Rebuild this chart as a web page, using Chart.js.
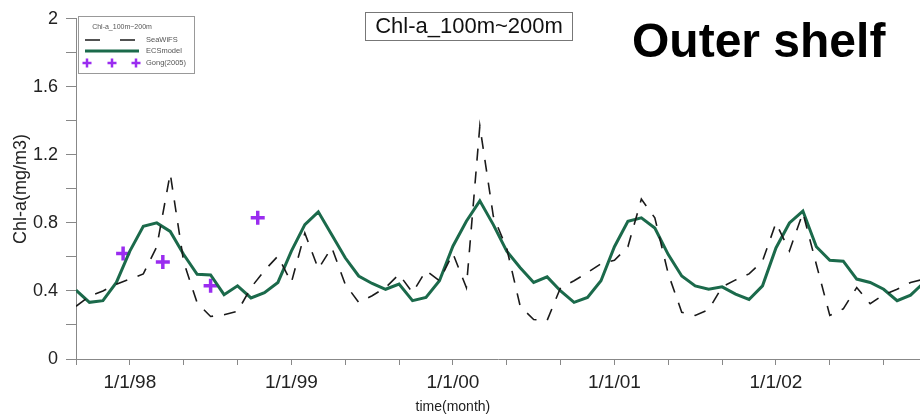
<!DOCTYPE html>
<html>
<head>
<meta charset="utf-8">
<script src="https://cdn.jsdelivr.net/npm/chart.js@4.4.1/dist/chart.umd.min.js"></script>
<style>
  html, body { margin: 0; padding: 0; background: #fff; }
  #wrap { position: relative; width: 920px; height: 417px; }
</style>
</head>
<body>
<div id="wrap"><canvas id="chl" width="920" height="417"></canvas></div>
<script>
// x is months counted from Jan 1998 (0 = 1/1/98); monthly series start Sep 1997
const firstMonth = -4

const seawifs = [
  0.31, 0.37, 0.40, 0.44, 0.47, 0.50, 0.66, 1.09, 0.57, 0.33, 0.25, 0.26,
  0.28, 0.42, 0.52, 0.605, 0.45, 0.74, 0.53, 0.655, 0.44, 0.333, 0.372, 0.42,
  0.498, 0.39, 0.52, 0.46, 0.62, 0.42, 1.37, 0.84, 0.65, 0.31, 0.232, 0.227,
  0.42, 0.46, 0.508, 0.56, 0.58, 0.66, 0.94, 0.83, 0.50, 0.275, 0.256, 0.29,
  0.424, 0.465, 0.50, 0.576, 0.80, 0.635, 0.86, 0.556, 0.256, 0.295, 0.42, 0.325,
  0.378, 0.41, 0.45, 0.47
]

const ecsModel = [
  0.405, 0.333, 0.343, 0.45, 0.634, 0.78, 0.80, 0.75, 0.614, 0.498, 0.494, 0.378,
  0.43, 0.359, 0.39, 0.45, 0.634, 0.79, 0.865, 0.73, 0.595, 0.488, 0.444, 0.41,
  0.44, 0.343, 0.362, 0.46, 0.663, 0.81, 0.93, 0.79, 0.634, 0.537, 0.45, 0.483,
  0.40, 0.333, 0.362, 0.46, 0.66, 0.81, 0.83, 0.77, 0.614, 0.488, 0.43, 0.41,
  0.424, 0.382, 0.35, 0.43, 0.653, 0.80, 0.87, 0.66, 0.58, 0.575, 0.47, 0.45,
  0.41, 0.343, 0.375, 0.45
]

const gongMonth = [-0.5, 2.45, 6.0, 9.5]
const gongChl = [0.62, 0.57, 0.43, 0.83]

const xTickLabels = ['1/1/98', '1/1/99', '1/1/00', '1/1/01', '1/1/02']
const yTickLabels = ['0', '0.4', '0.8', '1.2', '1.6', '2']

const FONT = '"Liberation Sans", Arial, sans-serif'

const asPoints = (vals) => vals.map((v, i) => ({ x: firstMonth + i, y: v }))

// --- Boxed legend, boxed title, x title and panel label ---

const panelDecor = {
  id: 'panelDecor',
  afterDraw(chart) {
    const ctx = chart.ctx
    const ds = chart.data.datasets
    ctx.save()

    // legend box
    ctx.fillStyle = '#fff'
    ctx.fillRect(78.5, 16.5, 116, 57)
    ctx.strokeStyle = '#999'
    ctx.lineWidth = 1
    ctx.strokeRect(78.5, 16.5, 116, 57)

    ctx.fillStyle = '#555'
    ctx.font = '7px ' + FONT
    ctx.textAlign = 'center'
    ctx.textBaseline = 'middle'
    ctx.fillText('Chl-a_100m~200m', 122, 27)

    const rows = [40, 51, 63]
    ctx.textAlign = 'left'
    ctx.font = '7.5px ' + FONT
    ds.forEach((d, i) => {
      const y = rows[i]
      ctx.save()
      if (d.showLine === false) {
        ctx.strokeStyle = d.pointBorderColor
        ctx.lineWidth = 2.5
        ;[87, 112, 136].forEach(cx => {
          ctx.beginPath()
          ctx.moveTo(cx - 4.5, y); ctx.lineTo(cx + 4.5, y)
          ctx.moveTo(cx, y - 4.5); ctx.lineTo(cx, y + 4.5)
          ctx.stroke()
        })
      } else {
        ctx.strokeStyle = d.borderColor
        ctx.lineWidth = d.borderWidth
        ctx.setLineDash(d.borderDash ? [15, 20] : [])
        ctx.beginPath()
        ctx.moveTo(85, y); ctx.lineTo(139, y)
        ctx.stroke()
      }
      ctx.restore()
      ctx.fillStyle = '#555'
      ctx.fillText(d.label, 146, y)
    })

    // boxed title
    ctx.strokeStyle = '#777'
    ctx.lineWidth = 1
    ctx.strokeRect(365.5, 12.5, 207, 28)
    ctx.fillStyle = '#111'
    ctx.font = '22px ' + FONT
    ctx.textAlign = 'center'
    ctx.fillText('Chl-a_100m~200m', 469, 27)

    // x-axis title sits under 1/1/00 in the original, not mid-axis
    ctx.fillStyle = '#222'
    ctx.font = '14px ' + FONT
    ctx.fillText('time(month)', chart.scales.x.getPixelForValue(24), 407)

    // panel label
    ctx.font = 'bold 48px ' + FONT
    ctx.textAlign = 'left'
    ctx.textBaseline = 'alphabetic'
    ctx.fillStyle = '#000'
    ctx.fillText('Outer shelf', 632, 57)

    ctx.restore()
  }
}

new Chart(document.getElementById('chl'), {
  type: 'line',
  data: {
    datasets: [
      {
        label: 'SeaWiFS',
        data: asPoints(seawifs),
        borderColor: '#1a1a1a',
        borderWidth: 1.6,
        borderDash: [12, 11],
        pointRadius: 0,
        tension: 0
      },
      {
        label: 'ECSmodel',
        data: asPoints(ecsModel),
        borderColor: '#1b6a4b',
        borderWidth: 3,
        pointRadius: 0,
        tension: 0
      },
      {
        label: 'Gong(2005)',
        data: gongMonth.map((m, i) => ({ x: m, y: gongChl[i] })),
        showLine: false,
        pointStyle: 'cross',
        pointRadius: 7,
        pointBorderWidth: 3.5,
        pointBorderColor: '#9a2cf0',
        pointBackgroundColor: '#9a2cf0'
      }
    ]
  },
  options: {
    responsive: false,
    animation: false,
    devicePixelRatio: 1,
    // no extra room for point overflow: the plot runs to the right edge like the cropped original
    layout: { autoPadding: false, padding: { top: 15, left: 0, right: 0, bottom: 0 } },
    plugins: {
      legend: { display: false },
      tooltip: { enabled: false }
    },
    scales: {
      x: {
        type: 'linear',
        bounds: 'data',
        min: firstMonth,
        max: 58.7,
        afterFit: (s) => {
          s.height = 58
          s.paddingLeft = 0
          s.paddingRight = 0
        },
        border: { color: '#888', width: 1 },
        grid: { drawOnChartArea: false, tickLength: 6, color: '#888' },
        ticks: {
          stepSize: 4,
          includeBounds: false,
          autoSkip: false,
          maxRotation: 0,
          padding: 6,
          color: '#222',
          font: { family: FONT, size: 19 },
          callback: (v) => (v >= 0 && v % 12 === 0) ? xTickLabels[v / 12] : ''
        }
      },
      y: {
        min: 0,
        max: 2,
        afterFit: (s) => { s.width = 76 },
        border: { color: '#888', width: 1 },
        grid: { drawOnChartArea: false, tickLength: 10, color: '#888' },
        ticks: {
          stepSize: 0.2,
          padding: 8,
          color: '#222',
          font: { family: FONT, size: 18 },
          callback: (v) => {
            const tenths = Math.round(v * 10)
            return tenths % 4 === 0 ? yTickLabels[tenths / 4] : ''
          }
        },
        title: {
          display: true,
          text: 'Chl-a(mg/m3)',
          color: '#222',
          font: { family: FONT, size: 18 },
          padding: { top: 10, bottom: 0 }
        }
      }
    }
  },
  plugins: [panelDecor]
})
</script>
</body>
</html>
